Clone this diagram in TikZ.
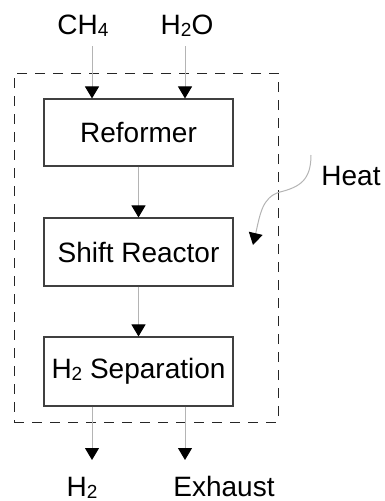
\documentclass[tikz,border=0pt]{standalone}
\usepackage{fontspec}
\setmainfont{Liberation Sans}
\usetikzlibrary{arrows.meta}
\newcommand\subdig[1]{\raisebox{-2pt}{\fontsize{19}{19}\selectfont #1}}
\definecolor{flowgray}{HTML}{B4B4B4}
\definecolor{boxgray}{HTML}{404040}
\tikzset{
  unit/.style={draw=boxgray, line width=1.1pt, minimum width=189pt, inner sep=0pt},
  dashbox/.style={draw=black!85, line width=1pt, dash pattern=on 10pt off 8pt, inner sep=0pt},
  flow/.style={draw=flowgray, line width=1pt, -{Triangle[width=14pt,length=12pt,fill=black,color=black]}},
  lbl/.style={inner sep=0pt, font=\fontsize{28}{30}\selectfont}
}
\begin{document}
\begin{tikzpicture}[x=1pt,y=-1pt]
\useasboundingbox (0,0) rectangle (384,501);
\node[dashbox, minimum width=264pt, minimum height=349pt] (env) at (146,247.5) {};
\node[unit, minimum height=67pt, lbl] (ref) at (138.5,132.5) {Reformer};
\node[unit, minimum height=68pt, lbl] (shift) at (138.5,252) {Shift Reactor};
\node[unit, minimum height=69pt, lbl] (sep) at (138.5,371.5) {H\subdig{2} Separation};
\node[lbl, anchor=base] (ch4) at (83,34) {CH\subdig{4}};
\node[lbl, anchor=base] (h2o) at (187,34) {H\subdig{2}O};
\node[lbl, anchor=base] (h2) at (82,496) {H\subdig{2}};
\node[lbl, anchor=base] (exh) at (224,496) {Exhaust};
\node[lbl, anchor=base] (heat) at (351,185) {Heat};
\coordinate (ch4s) at (92,46);
\coordinate (h2os) at (185,46);
\coordinate (h2e) at (92,460);
\coordinate (exhe) at (185,460);
\coordinate (heats) at (311,155);
\coordinate (heate) at (253,245);
\draw[flow] (ch4s) -- (ch4s |- ref.north);
\draw[flow] (h2os) -- (h2os |- ref.north);
\draw[flow] (ref.south) -- (shift.north);
\draw[flow] (shift.south) -- (sep.north);
\draw[flow] (h2e |- sep.south) -- (h2e);
\draw[flow] (exhe |- sep.south) -- (exhe);
\draw[flow] (heats) .. controls (311,180) and (300,187) .. (280,192) .. controls (262,197) and (260,215) .. (heate);
\end{tikzpicture}
\end{document}
